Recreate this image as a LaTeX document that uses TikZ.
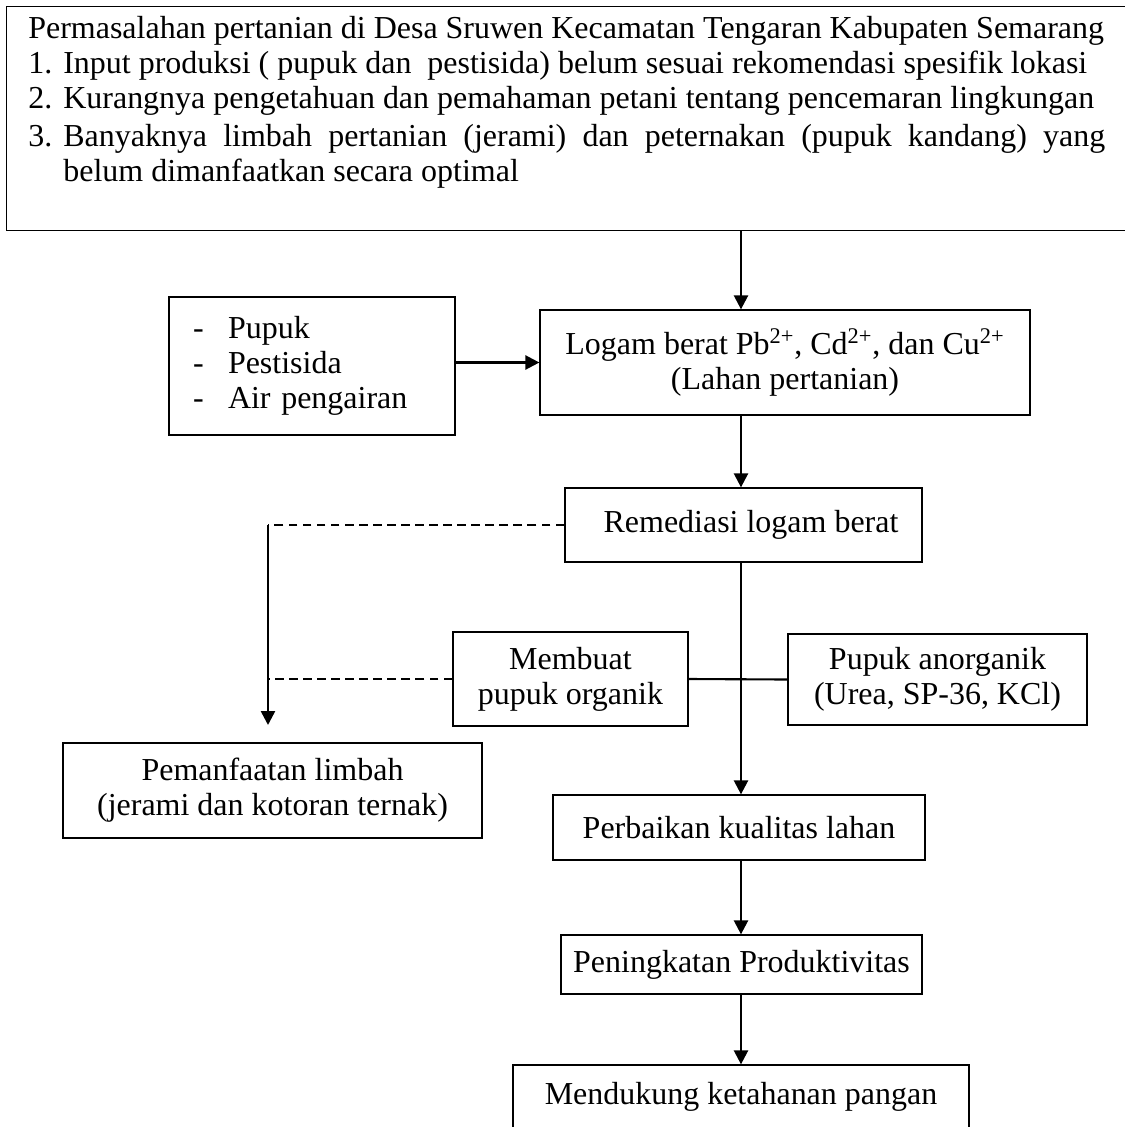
\documentclass[tikz,border=0pt]{standalone}
\usepackage{fontspec}
\setmainfont{Liberation Serif}
\usetikzlibrary{arrows.meta}

\begin{document}
\begin{tikzpicture}[x=0.02cm, y=-0.02cm,
    font=\fontsize{18.2}{20}\selectfont,
    box/.style={draw, line width=0.75pt, align=center, inner sep=0pt},
    arr/.style={line width=1.4pt, -{Triangle[length=0.28cm, width=0.28cm]}},
    link/.style={line width=1.2pt},
    dashline/.style={line width=0.8pt, dash pattern=on 5pt off 3pt}]
  \useasboundingbox (0,0) rectangle (1125,1127);

  % problem statement
  \node[box, minimum width=22.68cm, minimum height=4.48cm, anchor=north west] (masalah) at (6,6) {};
  \node[anchor=north west, inner sep=0pt, text width=21.54cm, align=justify] (masalahtxt) at (28,16)
  {\setlength{\parindent}{0pt}%
   Permasalahan pertanian di Desa Sruwen Kecamatan Tengaran Kabupaten Semarang\par
   \hangindent=0.7cm\hangafter=1\makebox[0.7cm][l]{1.}Input produksi ( pupuk dan\ \ pestisida) belum sesuai rekomendasi spesifik lokasi\par
   \hangindent=0.7cm\hangafter=1\makebox[0.7cm][l]{2.}Kurangnya pengetahuan dan pemahaman petani tentang pencemaran lingkungan\par
   \vspace{1.5pt}%
   \hangindent=0.7cm\hangafter=1\makebox[0.7cm][l]{3.}Banyaknya limbah pertanian (jerami) dan peternakan (pupuk kandang) yang\linebreak belum dimanfaatkan secara optimal\par};

  \coordinate (spine) at (741,0);
  \coordinate (kiri) at (268,725);

  % boxes
  \node[box, minimum width=5.72cm, minimum height=2.76cm, text width=4.76cm, inner xsep=0.48cm, align=left] (sumber) at (312,366)
  {\makebox[0.7cm][l]{-}Pupuk\\ \makebox[0.7cm][l]{-}Pestisida\\ \makebox[0.7cm][l]{-}Air pengairan};
  \node[box, minimum width=9.8cm, minimum height=2.1cm] (logam) at (785,362.5)
  {Logam berat Pb\textsuperscript{2+}, Cd\textsuperscript{2+}, dan Cu\textsuperscript{2+}\\(Lahan pertanian)};
  \node[box, minimum width=7.14cm, minimum height=1.48cm] (remediasi) at (743.5,525) {\hspace{0.3cm}Remediasi logam berat};
  \node[box, minimum width=4.7cm, minimum height=1.88cm] (organik) at (570.5,679) {Membuat\\pupuk organik};
  \node[box, minimum width=5.98cm, minimum height=1.82cm] (anorganik) at (937.5,679.5) {Pupuk anorganik\\(Urea, SP-36, KCl)};
  \node[box, minimum width=8.38cm, minimum height=1.9cm] (limbah) at (272.5,790.5) {Pemanfaatan limbah\\(jerami dan kotoran ternak)};
  \node[box, minimum width=7.44cm, minimum height=1.3cm] (kualitas) at (739,827.5) {Perbaikan kualitas lahan};
  \node[box, minimum width=7.22cm, minimum height=1.18cm] (produktif) at (741.5,964.5) {Peningkatan Produktivitas};
  \node[box, minimum width=9.12cm, minimum height=1.28cm] (pangan) at (741,1097) {Mendukung ketahanan pangan};

  % connectors
  \draw[arr] (masalah.south -| spine) -- (logam.north -| spine);
  \draw[arr] (sumber.east |- logam) -- (logam.west);
  \draw[arr] (logam.south -| spine) -- (remediasi.north -| spine);
  \draw[dashline] (remediasi.west) -- (remediasi.west -| kiri);
  \draw[arr] (remediasi.west -| kiri) -- (kiri);
  \draw[dashline] (organik.west) -- (organik.west -| kiri);
  \draw[link] (organik.east) -- (anorganik.west);
  \draw[arr] (remediasi.south -| spine) -- (kualitas.north -| spine);
  \draw[arr] (kualitas.south -| spine) -- (produktif.north -| spine);
  \draw[arr] (produktif.south -| spine) -- (pangan.north -| spine);
\end{tikzpicture}
\end{document}
